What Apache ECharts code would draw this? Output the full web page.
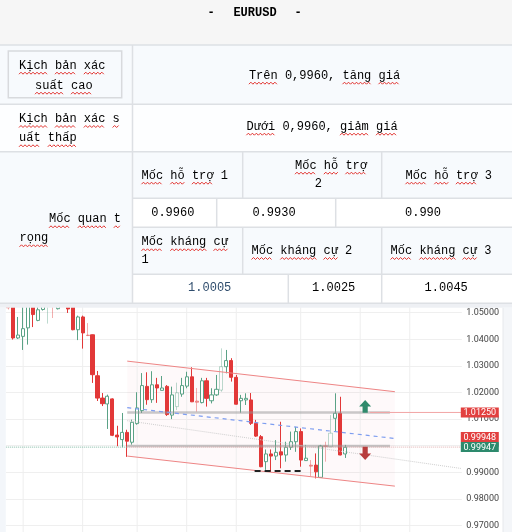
<!DOCTYPE html>
<html><head><meta charset="utf-8">
<script src="https://cdn.jsdelivr.net/npm/echarts@6/dist/echarts.min.js"></script>
<style>html,body{margin:0;padding:0;background:#fff}#c{width:512px;height:532px}</style>
</head><body><div id="c"></div>
<script>
// ---------- table texts ----------
const titleParts = ['-', 'EURUSD', '-'];
const scenarioLabels = [['Kịch bản xác', 'suất cao'], ['Kịch bản xác s', 'uất thấp']];
const scenarioTexts = ['Trên 0,9960, tăng giá', 'Dưới 0,9960, giảm giá'];
const keyLevelLabel = ['Mốc quan t', 'rọng'];
const supportLabels = [['Mốc hỗ trợ 1'], ['Mốc hỗ trợ', '2'], ['Mốc hỗ trợ 3']];
const supportValues = ['0.9960', '0.9930', '0.990'];
const resistanceLabels = [['Mốc kháng cự', '1'], ['Mốc kháng cự 2'], ['Mốc kháng cự 3']];
const resistanceValues = ['1.0005', '1.0025', '1.0045'];

// ---------- candle data ----------
const opens = [1.0545,1.0560,1.0405,1.0411,1.0443,1.0535,1.0471,1.0512,1.0530,1.0545,
1.0515,1.0540,1.0540,1.0535,1.0436,1.0484,1.0416,1.0417,1.0263,1.0179,
1.0157,1.0176,1.0040,1.0023,1.0050,1.0013,1.0083,1.0132,1.0223,1.0173,
1.0229,1.0208,1.0223,1.0115,1.0147,1.0194,1.0224,1.0259,1.0168,1.0162,
1.0244,1.0169,1.0191,1.0209,1.0297,1.0320,1.0257,1.0169,1.0172,1.0172,
1.0084,1.0034,0.9940,0.9969,0.9961,0.9977,0.9965,0.9994,1.0015,1.0053,
0.9944,0.9927,0.9927,0.9881,1.0000,0.9996,1.0103,1.0122,0.9969];
const closes = [1.0518,1.0405,1.0416,1.0440,1.0535,1.0493,1.0511,1.0535,1.0545,1.0525,
1.0530,1.0560,1.0514,1.0436,1.0484,1.0424,1.0414,1.0267,1.0179,1.0158,
1.0186,1.0039,1.0033,1.0050,1.0017,1.0088,1.0142,1.0226,1.0173,1.0229,
1.0217,1.0217,1.0117,1.0191,1.0199,1.0226,1.0259,1.0165,1.0163,1.0244,
1.0178,1.0191,1.0212,1.0297,1.0320,1.0257,1.0156,1.0178,1.0178,1.0084,
1.0036,0.9921,0.9969,0.9961,0.9975,0.9965,0.9994,1.0015,1.0053,0.9946,
0.9953,0.9923,0.9902,0.9999,0.9997,1.0047,1.0122,0.9965,0.9994];
const lows = [1.0512,1.0399,1.0401,1.0360,1.0380,1.0446,1.0468,1.0508,1.0459,1.0480,
1.0512,1.0530,1.0499,1.0434,1.0397,1.0365,1.0412,1.0236,1.0168,1.0149,
1.0063,1.0036,0.9998,0.9994,0.9958,1.0004,1.0079,1.0123,1.0154,1.0161,
1.0161,1.0208,1.0112,1.0100,1.0134,1.0184,1.0216,1.0164,1.0128,1.0159,
1.0147,1.0159,1.0187,1.0203,1.0272,1.0241,1.0155,1.0124,1.0153,1.0078,
1.0033,0.9919,0.9909,0.9902,0.9946,0.9915,0.9940,0.9984,0.9977,0.9921,
0.9943,0.9886,0.9877,0.9879,0.9940,0.9994,1.0053,0.9964,0.9954];
const highs = [1.0560,1.0580,1.0484,1.0525,1.0550,1.0560,1.0540,1.0550,1.0560,1.0560,
1.0545,1.0580,1.0560,1.0545,1.0489,1.0489,1.0461,1.0418,1.0281,1.0198,
1.0192,1.0178,1.0075,1.0123,1.0060,1.0098,1.0201,1.0273,1.0276,1.0280,
1.0255,1.0262,1.0228,1.0222,1.0237,1.0255,1.0278,1.0295,1.0217,1.0255,
1.0255,1.0216,1.0266,1.0366,1.0360,1.0329,1.0266,1.0191,1.0197,1.0198,
1.0097,1.0040,0.9986,0.9986,1.0021,1.0090,1.0015,1.0053,1.0071,1.0065,
1.0003,0.9946,0.9971,1.0003,1.0015,1.0115,1.0197,1.0184,1.0003];
const fadedCandles = [0, 8, 9, 16, 34, 38, 43, 61, 64, 65];
const categoryCount = 92;
const weekLines = [3, 15, 26, 36, 46, 59, 71, 81];
const yMin = 0.96, yMax = 1.06, yStep = 0.01;

// ---------- drawings ----------
const channelUpper = [[24, 1.0318], [78, 1.0203]];
const channelLower = [[24, 0.9961], [78, 0.9848]];
const channelMid = [[24, 1.0143], [78, 1.0027]];
const trendDotted = [[24, 1.0094], [91.5, 0.9914]];
const zoneTop = [[24, 1.0125], [77, 1.0125]];
const zoneBottom = [[24, 0.9999], [77, 0.9999]];
const bidLine = [[-0.5, 0.99947], [24, 0.99947]];
const askLine = [[24, 0.99948], [91.5, 0.99948]];
const targetLine = [[73, 1.0125], [91.5, 1.0125]];
const supportDash = [[49.7, 0.9905], [59.4, 0.9905]];
const arrows = [[72, 1.0172, 1.0124, 0], [72, 0.9946, 0.9996, 1]];
const priceTags = [[1.0125, 0, -0], [0.99948, 0, -10], [0.99947, 1, 0]];

const RED = '#e23838', GREEN = '#5aa286';
const categories = Array.from({length: categoryCount}, (_, i) => String(i));

// ---------- graphic (header + table) ----------
const G = [];
const FONT = '12px "Liberation Mono", "DejaVu Sans Mono", monospace';
const cv = document.createElement('canvas').getContext('2d');
cv.font = FONT;
const mw = s => cv.measureText(s).width;
function rect(x, y, w, h, fill, stroke) {
  G.push({type: 'rect', z: 100, shape: {x, y, width: w, height: h},
    style: stroke ? {fill: fill || 'transparent', stroke, lineWidth: 1.5} : {fill}});
}
function hline(x1, x2, y) { G.push({type: 'line', z: 101, shape: {x1, y1: y, x2, y2: y}, style: {stroke: '#dde0e4', lineWidth: 1.5}}); }
function vline(x, y1, y2) { G.push({type: 'line', z: 101, shape: {x1: x, y1, x2: x, y2}, style: {stroke: '#dde0e4', lineWidth: 1.5}}); }
function txt(text, x, y, align, color, font, noSquiggle) {
  G.push({type: 'text', z: 102, style: {text, x, y, fill: color || '#000', font: font || FONT,
    align, verticalAlign: 'middle', textAlign: align, textVerticalAlign: 'middle'}});
  if (noSquiggle) return;
  const W = mw(text);
  const start = align === 'left' ? x : align === 'center' ? x - W / 2 : x - W;
  const re = /\S+/g; let m;
  while ((m = re.exec(text))) {
    if (!/[A-Za-zÀ-ỹ]/.test(m[0])) continue;
    const x0 = start + mw(text.slice(0, m.index)), x1 = x0 + mw(m[0]);
    const pts = []; let k = 0;
    for (let px = x0; px <= x1 + 0.1; px += 2, k++) pts.push([px, y + 7.5 + (k % 2 ? -1 : 1)]);
    G.push({type: 'polyline', z: 103, shape: {points: pts}, style: {stroke: '#e2302c', lineWidth: 1, fill: null}});
  }
}
// backgrounds
rect(0, 0, 512, 45, '#f6f6f6');
rect(0, 45, 512, 59.3, '#f7fafd');
rect(0, 104.3, 512, 47.4, '#fdfeff');
rect(0, 151.7, 132.5, 151.6, '#f7fafd');
rect(132.5, 151.7, 379.5, 46.6, '#f7fafd');
rect(132.5, 198.3, 379.5, 29, '#ffffff');
rect(132.5, 227.3, 379.5, 47, '#f7fafd');
rect(132.5, 274.3, 379.5, 29, '#ffffff');
rect(0, 303.3, 512, 4.5, '#eef0f4');
rect(0, 307.8, 5.8, 225, '#f3f6fa');
rect(503, 307.8, 9, 225, '#f4f6f9');
G.push({type: 'line', z: 101, shape: {x1: 503, y1: 307.8, x2: 503, y2: 532}, style: {stroke: '#e6e8ec', lineWidth: 1}});
// borders
hline(0, 512, 45); hline(0, 512, 104.3); hline(0, 512, 151.7); hline(0, 512, 303.3);
vline(132.5, 45, 303.3);
hline(132.5, 512, 198.3); hline(132.5, 512, 227.3); hline(132.5, 512, 274.3);
vline(242.7, 151.7, 198.3); vline(381.7, 151.7, 198.3);
vline(216.7, 198.3, 227.3); vline(335.7, 198.3, 227.3);
vline(242.7, 227.3, 274.3); vline(381.7, 227.3, 274.3);
vline(288.3, 274.3, 303.3); vline(381.7, 274.3, 303.3);
rect(8.3, 51, 113.4, 46.7, null, '#d8dadd');
// title
const TFONT = 'bold 12px "Liberation Mono", "DejaVu Sans Mono", monospace';
txt(titleParts[0], 211, 13.3, 'center', '#000', TFONT, true);
txt(titleParts[1], 255, 13.3, 'center', '#000', TFONT, true);
txt(titleParts[2], 298, 13.3, 'center', '#000', TFONT, true);
// scenarios
txt(scenarioLabels[0][0], 19, 65.7, 'left');
txt(scenarioLabels[0][1], 35, 85.7, 'left');
txt(scenarioTexts[0], 324.5, 75.7, 'center');
txt(scenarioLabels[1][0], 19, 119, 'left');
txt(scenarioLabels[1][1], 19, 138.3, 'left');
txt(scenarioTexts[1], 322, 126.7, 'center');
// key levels
txt(keyLevelLabel[0], 49, 219.3, 'left');
txt(keyLevelLabel[1], 19.5, 238.3, 'left');
txt(supportLabels[0][0], 141.5, 175.7, 'left');
txt(supportLabels[1][0], 295, 165.7, 'left');
txt(supportLabels[1][1], 318.3, 184.3, 'center');
txt(supportLabels[2][0], 448.7, 175.7, 'center');
txt(supportValues[0], 172.8, 212.7, 'center');
txt(supportValues[1], 274, 212.7, 'center');
txt(supportValues[2], 423, 212.7, 'center');
txt(resistanceLabels[0][0], 141.5, 242.3, 'left');
txt(resistanceLabels[0][1], 141.5, 260, 'left');
txt(resistanceLabels[1][0], 251.5, 251, 'left');
txt(resistanceLabels[2][0], 441, 251, 'center');
txt(resistanceValues[0], 209.7, 288.3, 'center', '#2f4d6d');
txt(resistanceValues[1], 333.7, 288.3, 'center');
txt(resistanceValues[2], 446.2, 288.3, 'center');

// ---------- series ----------
const candleData = opens.map((o, i) => {
  const item = {value: [o, closes[i], lows[i], highs[i]]};
  if (fadedCandles.includes(i)) item.itemStyle = {opacity: 0.4};
  return item;
});
function seg(data, color, width, type, z) {
  return {type: 'line', xAxisIndex: 1, data, symbol: 'none', silent: true, z: z || 4,
    lineStyle: {color, width, type: type || 'solid'}, animation: false};
}
const series = [];
weekLines.forEach(i => series.push(seg([[i, yMin], [i, yMax]], '#eeeeee', 1, 'solid', 1)));
series.push({
  type: 'custom', xAxisIndex: 1, z: 1, silent: true, data: [[0, 0]],
  renderItem: (params, api) => {
    const pts = [channelUpper[0], channelUpper[1], channelLower[1], channelLower[0]].map(p => api.coord(p));
    return {type: 'polygon', shape: {points: pts}, style: {fill: 'rgba(235,110,130,0.04)'}};
  }
});
series.push({
  type: 'candlestick', xAxisIndex: 0, z: 3, data: candleData, barWidth: 3.6,
  itemStyle: {color: '#ffffff', color0: RED, borderColor: GREEN, borderColor0: RED, borderWidth: 1}
});
series.push(seg(zoneTop, 'rgba(150,150,150,0.5)', 2.5));
series.push(seg(zoneBottom, 'rgba(150,150,150,0.5)', 2.5));
series.push(seg(channelUpper, '#ee8585', 1));
series.push(seg(channelLower, '#ee8585', 1));
series.push(seg(channelMid, '#7d9df0', 1.2, [4, 4]));
series.push(seg(trendDotted, '#cfcfcf', 1, 'dotted'));
series.push(seg(bidLine, '#7fb8a2', 1, 'dotted'));
series.push(seg(askLine, 'rgba(210,140,140,0.7)', 1, 'dotted'));
series.push(seg(targetLine, '#f2a4a4', 1));
series.push(seg(supportDash, '#222222', 2, [6, 4]));
series.push({
  type: 'custom', xAxisIndex: 1, z: 5, silent: true, data: arrows,
  renderItem: (params, api) => {
    const t = api.coord([api.value(0), api.value(1)]);
    const b = api.coord([api.value(0), api.value(2)]);
    const s = b[1] > t[1] ? 1 : -1, x = t[0], hh = 6.5, hw = 6, sw = 2.6;
    const pts = [[x, t[1]], [x + hw, t[1] + s * hh], [x + sw, t[1] + s * hh], [x + sw, b[1]],
      [x - sw, b[1]], [x - sw, t[1] + s * hh], [x - hw, t[1] + s * hh]];
    return {type: 'polygon', shape: {points: pts}, style: {fill: api.value(3) ? '#b83d3d' : '#2f8a6c'}};
  }
});
series.push({
  type: 'custom', xAxisIndex: 1, z: 6, silent: true, clip: false, data: priceTags,
  renderItem: (params, api) => {
    const y = api.coord([0, api.value(0)])[1] + api.value(2);
    const x = params.coordSys.x + params.coordSys.width - 1;
    return {type: 'group', children: [
      {type: 'rect', shape: {x, y: y - 5, width: 38, height: 10}, style: {fill: api.value(1) ? '#2d8a6d' : '#e2403f'}},
      {type: 'text', style: {text: api.value(0).toFixed(5), x: x + 19, y: y + 0.5, fill: '#ffffff',
        font: '9px Roboto, "Liberation Sans", sans-serif', align: 'center', verticalAlign: 'middle',
        textAlign: 'center', textVerticalAlign: 'middle'}}
    ]};
  }
});

const chart = echarts.init(document.getElementById('c'), null, {renderer: 'canvas'});
chart.setOption({
  animation: false,
  backgroundColor: '#ffffff',
  grid: {left: 5.8, top: 286.1, width: 456, height: 266, containLabel: false, outerBoundsMode: 'none'},
  xAxis: [
    {type: 'category', data: categories, boundaryGap: true, show: false},
    {type: 'value', min: -0.5, max: categoryCount - 0.5, show: false}
  ],
  yAxis: {
    type: 'value', position: 'right', min: yMin, max: yMax, interval: yStep, scale: true,
    axisLine: {show: false}, axisTick: {show: false},
    axisLabel: {margin: 4.5, fontSize: 9, color: '#444', fontFamily: 'Roboto, "Liberation Sans", sans-serif',
      formatter: v => v.toFixed(5)},
    splitLine: {lineStyle: {color: '#efefef', width: 1}}
  },
  series,
  graphic: {elements: G}
});
</script></body></html>
